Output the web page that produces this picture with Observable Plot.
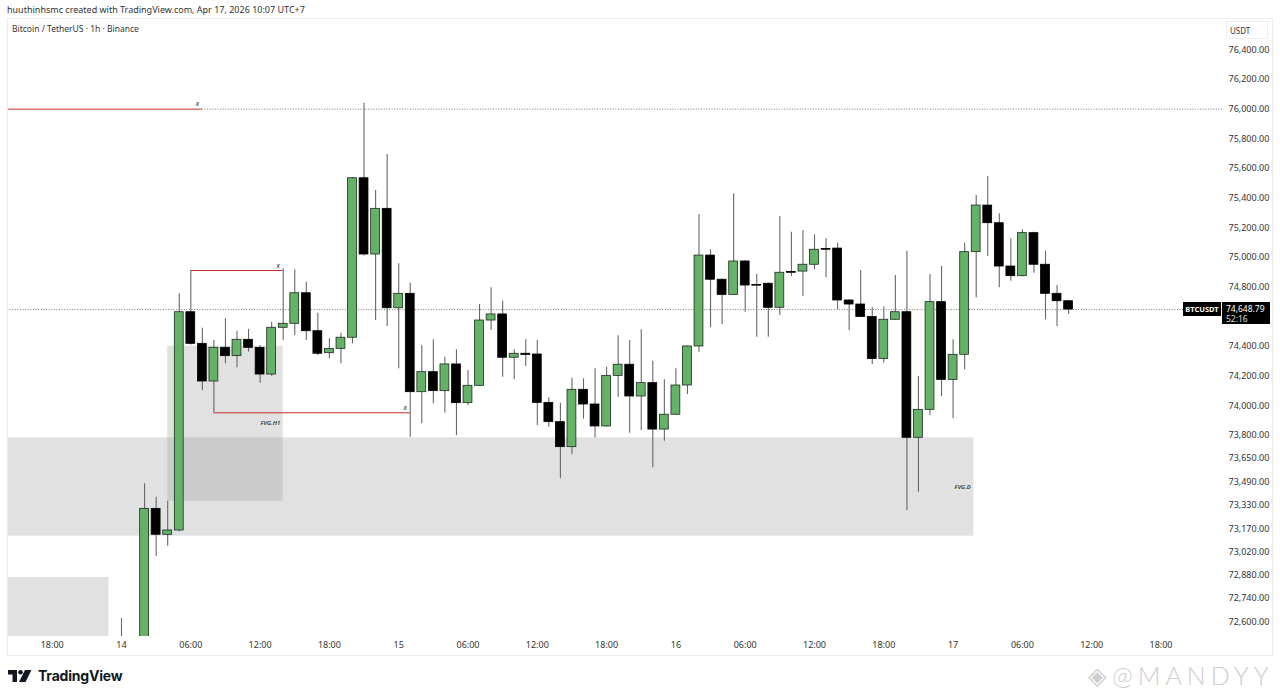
<!DOCTYPE html>
<html><head><meta charset="utf-8">
<script src="https://cdn.jsdelivr.net/npm/d3@7"></script>
<script src="https://cdn.jsdelivr.net/npm/@observablehq/plot@0.6"></script>
<style>
html,body{margin:0;padding:0;background:#fff;width:1280px;height:697px;overflow:hidden;font-family:"Noto Sans",sans-serif;color:#333;}
#wrap{position:relative;width:1280px;height:697px;}
#chart{position:absolute;left:0;top:0;}
.abs{position:absolute;white-space:nowrap;}
</style></head>
<body><div id="wrap">
<div id="chart"></div>
<div class="abs" style="left:7px;top:18px;width:1264px;height:636px;border:1px solid #ececec;pointer-events:none;"></div>
<div class="abs" style="left:7px;top:3px;font-size:9px;color:#333;">huuthinhsmc created with TradingView.com, Apr 17, 2026 10:07 UTC+7</div>
<div class="abs" style="left:12px;top:23px;font-size:8.5px;color:#333;">Bitcoin / TetherUS · 1h · Binance</div>
<div class="abs" style="left:1226px;top:21px;width:42px;height:18px;border:1px solid #efefef;font-size:8px;line-height:18px;padding-left:3px;box-sizing:border-box;color:#333;">USDT</div>
<div id="sym" class="abs" style="left:1183px;width:38px;height:14px;background:#000;color:#fff;font-size:7.5px;font-weight:700;line-height:14px;text-align:center;">BTCUSDT</div>
<div id="pbox" class="abs" style="left:1222px;width:48px;height:22px;background:#000;color:#fff;font-size:8.5px;line-height:10px;padding:2px 0 0 4px;box-sizing:border-box;"><div>74,648.79</div><div style="color:#ddd;">52:16</div></div>
<div class="abs" style="left:8px;top:667px;display:flex;align-items:center;gap:4px;">
  <svg width="26" height="14" viewBox="0 0 26 14"><path d="M0 1h9v12h-4.5v-7.5h-4.5z" fill="#131722"/><circle cx="12.5" cy="3.3" r="2.3" fill="#131722"/><path d="M17 1h6.5l-6 12h-6.5z" fill="#131722"/></svg>
  <span style="font-family:Inter,'Noto Sans',sans-serif;font-weight:700;font-size:14px;color:#131722;letter-spacing:-0.2px;">TradingView</span>
</div>
<div class="abs" style="left:1088px;top:658px;display:flex;align-items:center;gap:6px;color:#cdcdcd;">
  <span style="font-size:24px;">◈</span>
  <span style="font-family:Lato,'Noto Sans',sans-serif;font-weight:300;font-size:25px;letter-spacing:5px;">@MANDYY</span>
</div>
</div>
<script>
// ---- data ----
const startTime = "2026-04-14T00:00Z"; // first hourly candle
const opens  = [72470,72420,72350,73307,73131,73159,74631,74418,74164,74391,74335,74445,74391,74211,74526,74553,74759,74503,74355,74384,74459,75534,75020,75328,74658,74755,74092,74227,74099,74279,74018,74135,74575,74616,74324,74351,74346,74020,73890,73724,74108,74009,73861,74202,74277,74063,74153,73840,73940,74137,74400,75013,74850,74748,74973,74815,74823,74661,74902,74905,74951,75058,75060,74710,74683,74599,74316,74580,74631,73785,73973,74699,74175,74344,75036,75350,75231,74939,74874,75164,74951,74755,74705];
const highs  = [72620,72480,73479,73387,73360,74755,74912,74523,74440,74587,74503,74515,74407,74564,74924,74917,74833,74624,74452,74490,75540,76040,75452,75694,74957,74827,74407,74445,74328,74378,74238,74683,74796,74705,74378,74445,74440,74054,74018,74186,74182,74250,74260,74472,74440,74513,74301,74175,74250,74405,75290,75052,74855,75429,74978,74885,74828,75276,75170,75182,75153,75126,75096,74715,74912,74661,74666,74879,75042,74198,74885,74939,74445,75096,75418,75546,75294,75126,75187,75170,75042,74811,74710];
const lows   = [72380,72300,72330,72992,73056,73150,74410,74103,73953,74283,74256,74362,74153,74200,74440,74474,74440,74339,74317,74283,74418,75010,74575,74535,74250,73789,73879,74014,73950,73800,74002,74130,74508,74193,74175,74265,73867,73856,73513,73674,73910,73785,73855,74058,73816,73834,73587,73763,73935,74076,74362,74526,74548,74745,74631,74463,74463,74609,74872,74737,74917,74863,74647,74508,74595,74279,74289,74575,73296,73421,73935,74063,73913,74243,74728,75007,74796,74840,74870,74894,74580,74535,74616];
const closes = [72420,72350,73307,73131,73159,74631,74418,74164,74391,74335,74445,74391,74211,74526,74553,74759,74503,74351,74384,74459,75534,75020,75328,74658,74755,74092,74227,74099,74279,74018,74135,74575,74616,74324,74351,74343,74020,73890,73724,74108,74009,73861,74202,74277,74063,74153,73840,73940,74137,74400,75013,74850,74748,74973,74811,74810,74661,74897,74897,74951,75052,75052,74710,74683,74599,74316,74580,74631,73785,73973,74699,74175,74344,75036,75350,75231,74939,74874,75164,74951,74755,74705,74648.79];
const lastPrice = 74648.79;

// right price-axis tick labels
const priceTicks = [72600,72740,72880,73020,73170,73330,73490,73650,73800,74000,74200,74400,74800,75000,75200,75400,75600,75800,76000,76200,76400];
// time-axis tick labels (every 6 hours)
const timeTicks = ["2026-04-13T18:00Z","2026-04-14T00:00Z","2026-04-14T06:00Z","2026-04-14T12:00Z","2026-04-14T18:00Z","2026-04-15T00:00Z","2026-04-15T06:00Z","2026-04-15T12:00Z","2026-04-15T18:00Z","2026-04-16T00:00Z","2026-04-16T06:00Z","2026-04-16T12:00Z","2026-04-16T18:00Z","2026-04-17T00:00Z","2026-04-17T06:00Z","2026-04-17T12:00Z","2026-04-17T18:00Z"];

// gap zones
const zoneNames  = ["FVG.D", "FVG.H1", ""];
const zoneStart  = ["2026-04-13T10:00Z", "2026-04-14T04:00Z", "2026-04-13T10:00Z"];
const zoneEnd    = ["2026-04-17T01:48Z", "2026-04-14T14:00Z", "2026-04-13T22:55Z"];
const zoneTop    = [73785, 74402, 72866];
const zoneBottom = [73122, 73360, 72300];

// swept liquidity lines
const sweepPrice = [76000, 74912, 73953];
const sweepStart = ["2026-04-13T10:00Z", "2026-04-14T06:00Z", "2026-04-14T08:00Z"];
const sweepEnd   = ["2026-04-14T07:00Z", "2026-04-14T14:00Z", "2026-04-15T01:00Z"];
// dotted level continuing the first line
const levelPrice = 76000, levelStart = "2026-04-14T07:00Z", levelEnd = "2026-04-18T06:00Z";

// ---- build tables ----
const H = 3600e3;
const t0 = new Date(startTime);
const candles = opens.map((o, i) => ({
  t: new Date(+t0 + i * H), open: o, high: highs[i], low: lows[i], close: closes[i]
}));
const zones = zoneNames.map((n, i) => ({name: n, start: new Date(zoneStart[i]), end: new Date(zoneEnd[i]), top: zoneTop[i], bottom: zoneBottom[i]}));
const sweeps = sweepPrice.map((p, i) => ({price: p, start: new Date(sweepStart[i]), end: new Date(sweepEnd[i])}));
const GREEN = "#64b268";
const half = 23 * 60e3;

const fmtTime = d => d.getUTCHours() === 0 ? String(d.getUTCDate()) : d3.utcFormat("%H:%M")(d);

const chart = Plot.plot({
  width: 1280, height: 660,
  marginLeft: 7, marginRight: 58, marginTop: 18, marginBottom: 24,
  style: {fontFamily: "'Noto Sans', sans-serif", fontSize: "9px", color: "#333", background: "transparent", overflow: "visible"},
  x: {type: "utc", domain: [new Date("2026-04-14T00:00Z"), new Date("2026-04-17T18:00Z")], range: [121, 1160.5]},
  y: {type: "linear",
      domain: [72600, 72740, 72880, 73020, 73170, 73330, 73490, 73650, 73800, 76400],
      range:  [621.3, 598, 574.7, 551.3, 528.3, 505, 481.7, 458, 435, 49.3]},
  color: {type: "identity"},
  marks: [
    Plot.rect(zones, {x1: "start", x2: "end", y1: "bottom", y2: "top", fill: "#9a9a9a", fillOpacity: 0.3, clip: true}),
    Plot.ruleY([lastPrice], {stroke: "#555", strokeWidth: 0.8, strokeDasharray: "1,1.6", clip: true}),
    Plot.ruleY([{y: levelPrice, x1: new Date(levelStart), x2: new Date(levelEnd)}], {y: "y", x1: "x1", x2: "x2", stroke: "#555", strokeWidth: 0.8, strokeDasharray: "1,1.6", clip: true}),
    Plot.ruleY(sweeps, {y: "price", x1: "start", x2: "end", stroke: "#c62828", strokeWidth: 1, clip: true}),
    Plot.text(sweeps, {x: "end", y: "price", text: () => "x", dx: -5, dy: -5, fontSize: 7, fontStyle: "italic", fill: "#222", clip: true}),
    Plot.ruleX(candles, {x: "t", y1: "low", y2: "high", stroke: "#676767", strokeWidth: 1.1, clip: true}),
    Plot.rect(candles, {
      x1: d => new Date(+d.t - half), x2: d => new Date(+d.t + half),
      y1: "open", y2: "close",
      fill: d => d.close >= d.open ? GREEN : "#000",
      stroke: d => d.close >= d.open ? "#1e2a1e" : "#000", strokeWidth: 0.8, clip: true
    }),
    Plot.text(zones.filter(d => d.name), {x: "end", y: d => (d.top + d.bottom) / 2, text: "name", textAnchor: "end", dx: -3, fontSize: 6, fontStyle: "italic", fontWeight: 600, fill: "#333"}),
    Plot.axisX({anchor: "bottom", ticks: timeTicks.map(s => new Date(s)), tickFormat: fmtTime, tickSize: 0, tickPadding: 5, label: null, fill: "#333"}),
    Plot.axisY({anchor: "right", ticks: priceTicks, tickFormat: d3.format(",.2f"), tickSize: 0, tickPadding: 6, label: null, fill: "#333"})
  ]
});
document.getElementById("chart").appendChild(chart);

// price label boxes positioned through the y scale
const py = chart.scale("y").apply(lastPrice);
document.getElementById("sym").style.top = (py - 7) + "px";
document.getElementById("pbox").style.top = (py - 7) + "px";
</script>
</body></html>
